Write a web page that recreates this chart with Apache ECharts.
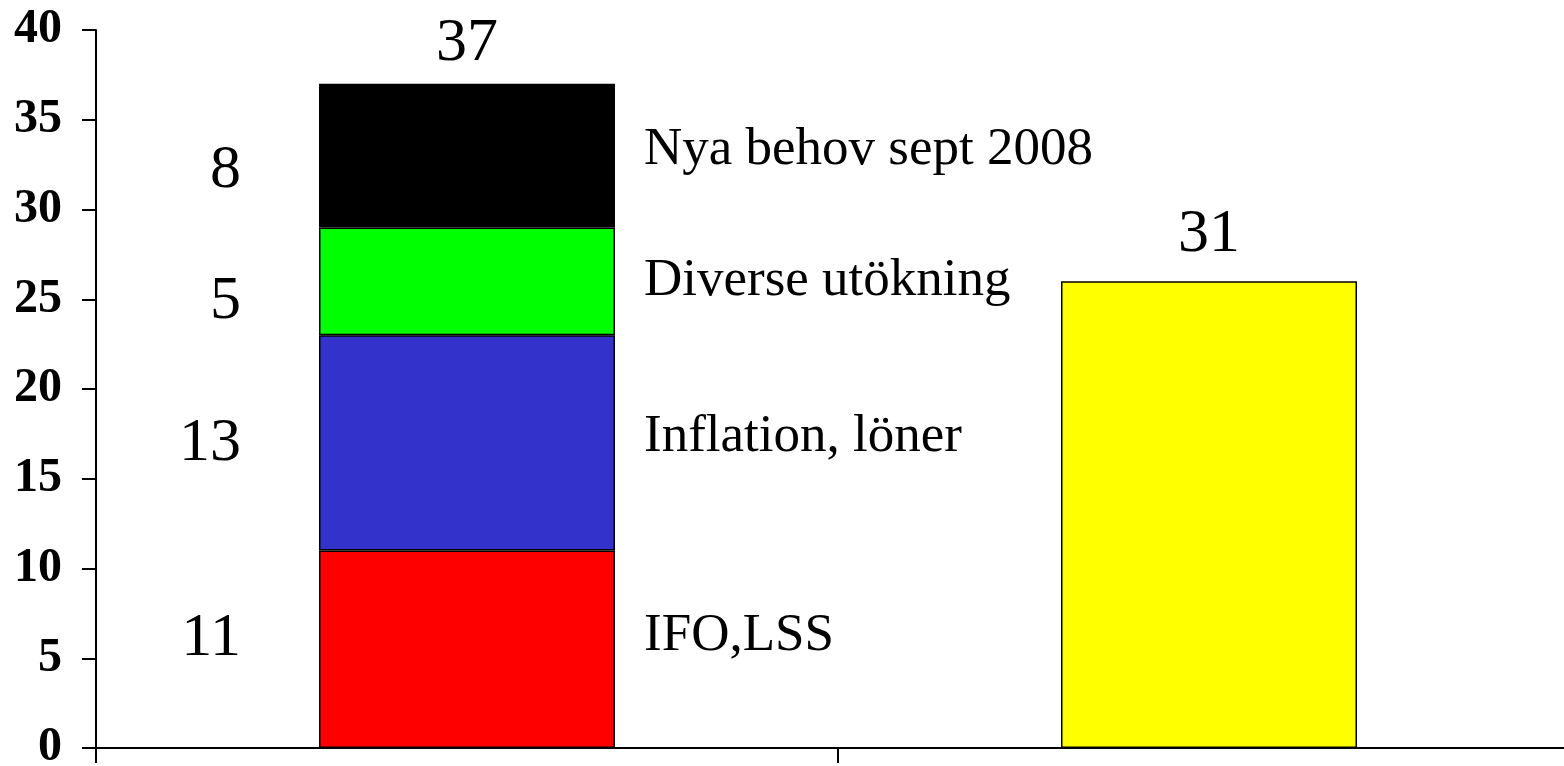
<!DOCTYPE html>
<html>
<head>
<meta charset="utf-8">
<script src="https://cdn.jsdelivr.net/npm/echarts@6/dist/echarts.min.js"></script>
<style>
html,body{margin:0;padding:0;background:#fff;}
#chart{width:1564px;height:766px;}
</style>
</head>
<body>
<div id="chart"></div>
<script>
// ---- data ----
const categories = ['Behov', 'Ram'];
const segNames = ['IFO,LSS', 'Inflation, löner', 'Diverse utökning', 'Nya behov sept 2008'];
const segValues = [11, 12, 6, 8];          // drawn heights of stacked segments
const segNumberLabels = ['11', '13', '5', '8']; // numbers written beside segments
const segColors = ['#FF0000', '#3333CC', '#00FF00', '#000000'];
const budgetValue = 26;       // drawn height of yellow bar
const budgetLabel = '31';
const totalLabel = '37';
const yTicks = { min: 0, max: 40, interval: 5 };

// ---- styling (not data) ----
const FONT = '"Liberation Serif", "Times New Roman", serif';
const nameOffsets = [-13, -6, 0, -6];
const numberOffsets = [-11, 1, 20, 15];
const BW = 296;

const series = [];
segValues.forEach((v, i) => {
  series.push({
    type: 'bar', stack: 'seg', name: segNames[i],
    data: [v, '-'], barWidth: BW, barGap: '-100%',
    itemStyle: { color: segColors[i], borderColor: '#000', borderWidth: 1.5 },
    label: {
      show: true, position: 'right', distance: 29,
      formatter: segNames[i], color: '#000',
      fontFamily: FONT, fontSize: 53, offset: [0, nameOffsets[i]]
    },
    emphasis: { disabled: true }
  });
});
segValues.forEach((v, i) => {
  series.push({
    type: 'bar', stack: 'num',
    data: [v, '-'], barWidth: BW, barGap: '-100%',
    itemStyle: { color: 'rgba(0,0,0,0)', borderWidth: 0 },
    label: {
      show: true, position: 'left', distance: 78,
      formatter: segNumberLabels[i], color: '#000',
      fontFamily: FONT, fontSize: 62, offset: [0, numberOffsets[i]]
    },
    emphasis: { disabled: true }, silent: true
  });
});
const total = segValues.reduce((a, b) => a + b, 0);
series.push({
  type: 'bar', stack: 'tot',
  data: [total, '-'], barWidth: BW, barGap: '-100%',
  itemStyle: { color: 'rgba(0,0,0,0)', borderWidth: 0 },
  label: {
    show: true, position: 'top', distance: 9,
    formatter: totalLabel, color: '#000', fontFamily: FONT, fontSize: 62
  },
  emphasis: { disabled: true }, silent: true
});
series.push({
  type: 'bar', stack: 'budget', name: 'Budget',
  data: ['-', budgetValue], barWidth: BW, barGap: '-100%',
  itemStyle: { color: '#FFFF00', borderColor: '#000', borderWidth: 1.5 },
  label: {
    show: true, position: 'top', distance: 16,
    formatter: budgetLabel, color: '#000', fontFamily: FONT, fontSize: 62
  },
  emphasis: { disabled: true }
});

const chart = echarts.init(document.getElementById('chart'), null, { renderer: 'canvas' });
chart.setOption({
  animation: false,
  backgroundColor: '#fff',
  grid: { left: 96, right: -16, top: 30, bottom: 18, containLabel: false, outerBoundsMode: 'none' },
  xAxis: {
    type: 'category', data: categories,
    axisLine: { lineStyle: { color: '#000', width: 2 } },
    axisTick: { show: true, length: 15, lineStyle: { color: '#000', width: 2 } },
    axisLabel: { show: false },
    splitLine: { show: false }
  },
  yAxis: {
    type: 'value', min: yTicks.min, max: yTicks.max, interval: yTicks.interval,
    axisLine: { show: true, lineStyle: { color: '#000', width: 2 } },
    axisTick: { show: true, length: 14, lineStyle: { color: '#000', width: 2 } },
    axisLabel: { color: '#000', fontFamily: FONT, fontWeight: 'bold', fontSize: 48, margin: 34 },
    splitLine: { show: false }
  },
  series: series
});
</script>
</body>
</html>
